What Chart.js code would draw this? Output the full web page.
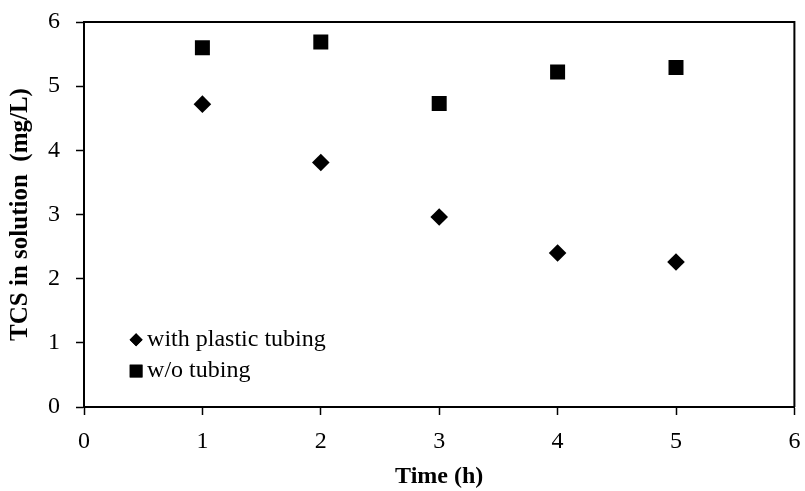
<!DOCTYPE html>
<html>
<head>
<meta charset="utf-8">
<script src="https://cdn.jsdelivr.net/npm/chart.js@4/dist/chart.umd.min.js"></script>
<style>
  html, body { margin: 0; padding: 0; background: #fff; }
  #wrap { width: 805px; height: 491px; }
</style>
</head>
<body>
<div id="wrap"><canvas id="chart" width="805" height="491"></canvas></div>
<script>
// Время отбора проб (ч) и концентрация TCS (мг/л)
const hours = [1, 2, 3, 4, 5];
const withTubing = [4.72, 3.81, 2.96, 2.40, 2.26];
const withoutTubing = [5.60, 5.69, 4.73, 5.22, 5.29];
const seriesLabels = ["with plastic tubing", "w/o tubing"];
const axisTicks = [0, 1, 2, 3, 4, 5, 6];

const FONT = "'Liberation Serif', 'Times New Roman', serif";

function toPoints(ys) {
  return hours.map((h, i) => ({ x: h, y: ys[i] }));
}

// убираем авто-отступы под подписи крайних делений
function noEdgePadding(s) {
  s.paddingTop = 0;
  s.paddingBottom = 0;
  s.paddingLeft = 0;
  s.paddingRight = 0;
}

// Рамка вокруг области графика (верх и справа)
const frame = {
  id: "frame",
  beforeDatasetsDraw(chart) {
    const { ctx, chartArea: a } = chart;
    ctx.save();
    ctx.strokeStyle = "#000";
    ctx.lineWidth = 2;
    ctx.beginPath();
    ctx.moveTo(a.left, a.top);
    ctx.lineTo(a.right, a.top);
    ctx.lineTo(a.right, a.bottom);
    ctx.stroke();
    ctx.restore();
  }
};

// Легенда внутри графика, в левом нижнем углу
const innerLegend = {
  id: "innerLegend",
  afterDatasetsDraw(chart) {
    const { ctx } = chart;
    const xs = chart.scales.x, ys = chart.scales.y;
    const mx = xs.getPixelForValue(0.44);
    const rows = [ys.getPixelForValue(1.05), ys.getPixelForValue(0.56)];
    const sizes = [6.5, 9];
    ctx.save();
    chart.data.datasets.forEach((ds, i) => {
      const y = rows[i];
      ctx.fillStyle = "#000";
      ctx.strokeStyle = "#000";
      ctx.lineWidth = 0;
      Chart.helpers.drawPoint(ctx, { pointStyle: ds.pointStyle, radius: sizes[i], borderWidth: 0 }, mx, y);
      ctx.fill();
      ctx.font = "24px " + FONT;
      ctx.textBaseline = "middle";
      ctx.textAlign = "left";
      ctx.fillText(ds.label, mx + 11, y);
    });
    ctx.restore();
  }
};

const ctx = document.getElementById("chart").getContext("2d");
new Chart(ctx, {
  type: "scatter",
  data: {
    datasets: [
      {
        label: seriesLabels[0],
        data: toPoints(withTubing),
        pointStyle: "rectRot",
        pointRadius: 8.8,
        backgroundColor: "#000",
        borderColor: "#000",
        borderWidth: 0
      },
      {
        label: seriesLabels[1],
        data: toPoints(withoutTubing),
        pointStyle: "rect",
        pointRadius: 10.6,
        backgroundColor: "#000",
        borderColor: "#000",
        borderWidth: 0
      }
    ]
  },
  options: {
    responsive: false,
    animation: false,
    layout: { padding: { left: 0, top: 22, right: 7, bottom: 0 } },
    plugins: {
      legend: { display: false },
      tooltip: { enabled: false }
    },
    scales: {
      x: {
        type: "linear",
        min: 0,
        max: 6,
        afterBuildTicks: (s) => { s.ticks = axisTicks.map(v => ({ value: v })); },
        afterFit: (s) => { s.height = 84; noEdgePadding(s); },
        grid: { drawOnChartArea: false, drawTicks: true, tickLength: 8, color: "#000", tickWidth: 1.5 },
        border: { color: "#000", width: 2 },
        ticks: { color: "#000", font: { family: FONT, size: 24 }, padding: 12, maxRotation: 0 },
        title: {
          display: true,
          text: "Time (h)",
          color: "#000",
          font: { family: FONT, size: 24, weight: "bold" },
          padding: { top: 0, bottom: 0 }
        }
      },
      y: {
        type: "linear",
        min: 0,
        max: 6,
        afterBuildTicks: (s) => { s.ticks = axisTicks.map(v => ({ value: v })); },
        afterFit: (s) => { s.width = 84; noEdgePadding(s); },
        grid: { drawOnChartArea: false, drawTicks: true, tickLength: 8, color: "#000", tickWidth: 1.5 },
        border: { color: "#000", width: 2 },
        ticks: { color: "#000", font: { family: FONT, size: 24 }, padding: 16 },
        title: {
          display: true,
          text: "TCS in solution  (mg/L)",
          color: "#000",
          font: { family: FONT, size: 25, weight: "bold" },
          padding: { top: 6, bottom: 0 }
        }
      }
    }
  },
  plugins: [frame, innerLegend]
});
</script>
</body>
</html>
